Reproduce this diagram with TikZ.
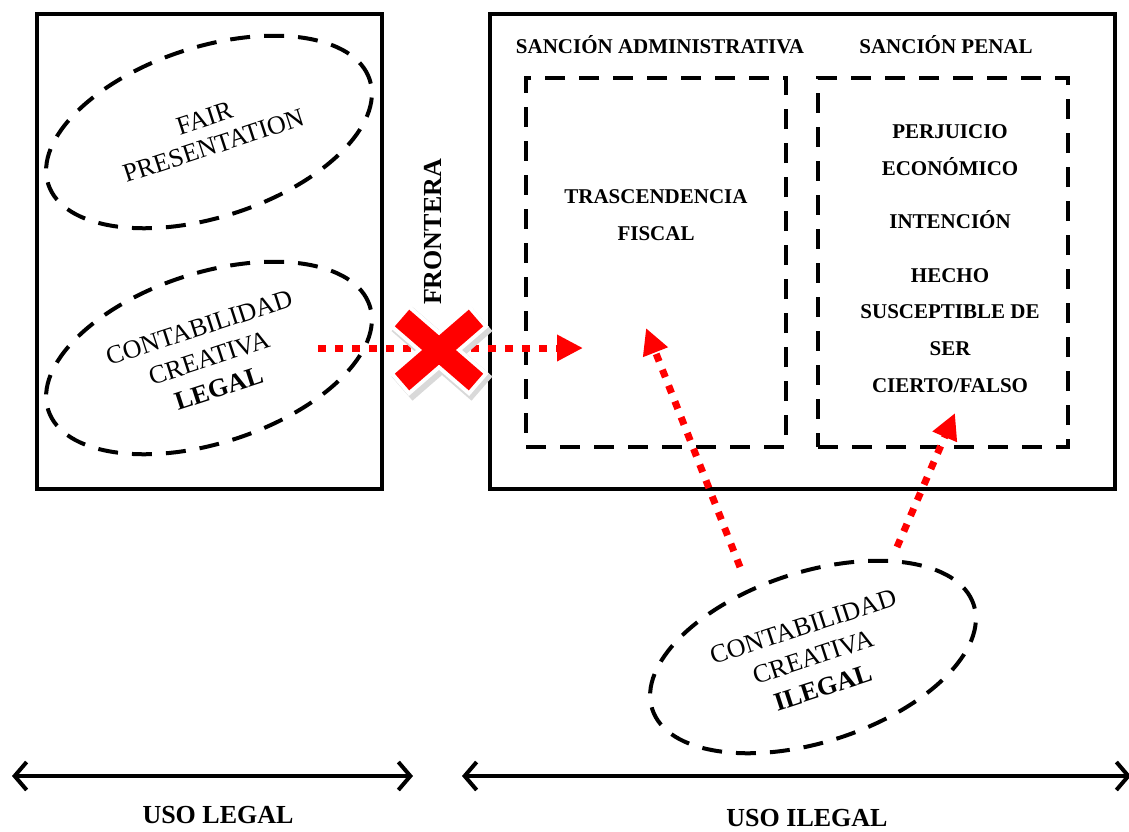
\documentclass[tikz,border=0pt]{standalone}
\usepackage{fontspec}
\setmainfont{Liberation Serif}
\usetikzlibrary{arrows.meta, shapes.geometric, calc}
\tikzstyle{caja}=[draw, line width=3.5pt, inner sep=0pt]
\tikzstyle{zona}=[draw, line width=4pt, dash pattern=on 20pt off 14pt, inner sep=0pt]
\tikzstyle{nube}=[draw, ellipse, line width=4pt, dash pattern=on 20pt off 14pt, minimum width=338pt, minimum height=170pt, inner sep=0pt, rotate=18, align=center, font=\fontsize{26}{32}\selectfont]
\tikzstyle{rotulo}=[font=\fontsize{21}{25}\selectfont\bfseries, anchor=base, inner sep=0pt]
\tikzstyle{uso}=[font=\fontsize{26}{30}\selectfont\bfseries, anchor=base, inner sep=0pt]
\tikzstyle{flecha}=[red, line width=7pt, dash pattern=on 8pt off 9pt, -{Triangle[length=26pt,width=25pt]}]
\tikzstyle{eje}=[line width=4pt, {Straight Barb[length=12pt,width=28pt]}-{Straight Barb[length=12pt,width=28pt]}]

\begin{document}
\begin{tikzpicture}[x=1pt,y=-1pt]
      \useasboundingbox (0,0) rectangle (1129,831);
      % cajas
      \node [caja, minimum width=345pt, minimum height=475pt] (legal) at (209.5,251.5) {};
      \node [caja, minimum width=625pt, minimum height=475pt] (ilegal) at (802.5,251.5) {};
      \node [zona, minimum width=260pt, minimum height=369pt] (adm) at (656,262.5) {};
      \node [zona, minimum width=250pt, minimum height=369pt] (pen) at (943,262.5) {};
      % elipses
      \node [nube, font=\fontsize{26}{29}\selectfont] (fair) at (209,132) {FAIR\\PRESENTATION};
      \node [nube] (cl) at (209,358) {CONTABILIDAD\\CREATIVA\\\textbf{LEGAL}};
      \node [nube] (ci) at (813,657) {CONTABILIDAD\\CREATIVA\\\textbf{ILEGAL}};
      % textos
      \node [rotulo] (sa) at (660,53) {SANCIÓN ADMINISTRATIVA};
      \node [rotulo] (sp) at (946,53) {SANCIÓN PENAL};
      \node [rotulo] (tr) at (656,203) {TRASCENDENCIA};
      \node [rotulo] (fi) at (656,240) {FISCAL};
      \node [rotulo] (pe) at (950,138) {PERJUICIO};
      \node [rotulo] (ec) at (950,175) {ECONÓMICO};
      \node [rotulo] (inte) at (950,228) {INTENCIÓN};
      \node [rotulo] (he) at (950,282) {HECHO};
      \node [rotulo] (su) at (950,318) {SUSCEPTIBLE DE};
      \node [rotulo] (se) at (950,355) {SER};
      \node [rotulo] (ce) at (950,392) {CIERTO/FALSO};
      \node [rotulo, anchor=center, rotate=90, font=\fontsize{26}{30}\selectfont\bfseries] (fr) at (433,232) {FRONTERA};
      % flechas
      \coordinate (a1) at (318,348);
      \coordinate (b1) at (583,348);
      \coordinate (a2) at ($(ci.center)+(-73,-90)$);
      \coordinate (b2) at (646,328);
      \coordinate (a3) at ($(ci.center)+(84,-110)$);
      \coordinate (b3) at (955,413);
      \draw[flecha] (a1) -- (b1);
      \draw[flecha] (a2) -- (b2);
      \draw[flecha] (a3) -- (b3);
      % la cruz
      \draw[gray!30, line width=32pt] (402,319) -- (482,388.6) (482,319) -- (402,388.6);
      \draw[white, line width=30pt] (399,315.4) -- (479,384.6) (479,315.4) -- (399,384.6);
      \draw[red, line width=22pt] (402,318) -- (476,382) (476,318) -- (402,382);
      % usos
      \coordinate (e1) at (12,776);
      \coordinate (e2) at (413,776);
      \coordinate (e3) at (462,776);
      \coordinate (e4) at (1131,776);
      \draw[eje] (e1) -- (e2);
      \draw[eje] (e3) -- (e4);
      \node [uso] (ul) at (218,823) {USO LEGAL};
      \node [uso] (ui) at (807,826) {USO ILEGAL};
\end{tikzpicture}
\end{document}
